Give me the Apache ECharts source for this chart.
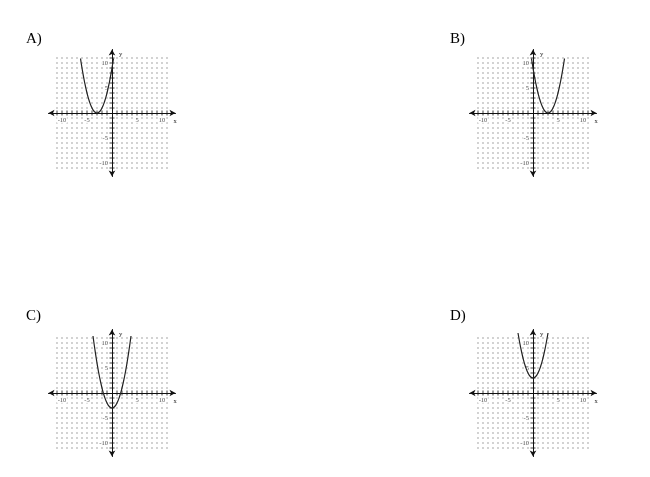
<!DOCTYPE html>
<html>
<head>
<meta charset="utf-8">
<script src="https://cdn.jsdelivr.net/npm/echarts@6/dist/echarts.min.js"></script>
<style>
  html, body { margin: 0; padding: 0; background: #fff; }
  #chart { width: 650px; height: 477px; }
</style>
</head>
<body>
<div id="chart"></div>
<script>
// --- data ---
const panelNames = ["A)", "B)", "C)", "D)"];
const gridTicks = [-11, -10, -9, -8, -7, -6, -5, -4, -3, -2, -1, 1, 2, 3, 4, 5, 6, 7, 8, 9, 10, 11];
const labelTicks = [-10, -5, 5, 10];

// A) vertex at (-3, 0)
const curveA = [[-6.3, 10.9], [-6, 9], [-5.5, 6.25], [-5, 4], [-4.5, 2.25], [-4, 1], [-3.5, 0.25], [-3, 0],
  [-2.5, 0.25], [-2, 1], [-1.5, 2.25], [-1, 4], [-0.5, 6.25], [0, 9], [0.3, 10.9]];
// B) vertex at (3, 0)
const curveB = [[-0.3, 10.9], [0, 9], [0.5, 6.25], [1, 4], [1.5, 2.25], [2, 1], [2.5, 0.25], [3, 0],
  [3.5, 0.25], [4, 1], [4.5, 2.25], [5, 4], [5.5, 6.25], [6, 9], [6.3, 10.9]];
// C) vertex at (0, -3)
const curveC = [[-3.8, 11.4], [-3.5, 9.25], [-3, 6], [-2.5, 3.25], [-2, 1], [-1.5, -0.75], [-1, -2], [-0.5, -2.75], [0, -3],
  [0.5, -2.75], [1, -2], [1.5, -0.75], [2, 1], [2.5, 3.25], [3, 6], [3.5, 9.25], [3.8, 11.4]];
// D) vertex at (0, 3)
const curveD = [[-3, 12], [-2.5, 9.25], [-2, 7], [-1.5, 5.25], [-1, 4], [-0.5, 3.25], [0, 3],
  [0.5, 3.25], [1, 4], [1.5, 5.25], [2, 7], [2.5, 9.25], [3, 12]];

const curves = [curveA, curveB, curveC, curveD];

// panel layout (pixel boxes)
const panelLeft = [48.5, 469.5, 48.5, 469.5];
const panelTop = [49.5, 49.5, 329.5, 329.5];
const letterLeft = [26, 450, 26, 450];
const letterTop = [32, 32, 309, 309];
const SIZE = 127;
const RANGE = 12.7;

const chart = echarts.init(document.getElementById("chart"));

const labelFont = { fontSize: 6.5, color: "#222", fontFamily: "Liberation Serif" };

// dotted lattice of the graph paper
const dots = [];
gridTicks.forEach((x) => gridTicks.forEach((y) => dots.push([x, y])));
const xTickMarks = gridTicks.map((x) => [x, 0]);
const yTickMarks = gridTicks.map((y) => [0, y]);
const xLabelPts = labelTicks.map((x) => [x, 0]);
const yLabelPts = labelTicks.map((y) => [0, y]);

const grids = [], xAxes = [], yAxes = [], series = [], titles = [];

panelNames.forEach((name, i) => {
  grids.push({ left: panelLeft[i], top: panelTop[i], width: SIZE, height: SIZE });

  titles.push({
    text: name,
    left: letterLeft[i],
    top: letterTop[i],
    padding: 0,
    textStyle: { fontFamily: "Liberation Serif", fontSize: 15, fontWeight: "normal", color: "#000" },
  });

  xAxes.push({
    gridIndex: i,
    type: "value",
    min: -RANGE,
    max: RANGE,
    name: "x",
    nameLocation: "end",
    nameGap: -2,
    nameTextStyle: { ...labelFont, verticalAlign: "top", padding: [5, 0, 0, 0] },
    axisLine: {
      onZero: true,
      symbol: ["arrow", "arrow"],
      symbolSize: [5, 6],
      lineStyle: { color: "#111", width: 1 },
    },
    axisTick: { show: false },
    splitLine: { show: false },
    axisLabel: { show: false },
  });

  yAxes.push({
    gridIndex: i,
    type: "value",
    min: -RANGE,
    max: RANGE,
    name: "y",
    nameLocation: "end",
    nameGap: -8,
    nameTextStyle: { ...labelFont, align: "left", padding: [0, 0, 0, 7] },
    axisLine: {
      onZero: true,
      symbol: ["arrow", "arrow"],
      symbolSize: [5, 6],
      lineStyle: { color: "#111", width: 1 },
    },
    axisTick: { show: false },
    splitLine: { show: false },
    axisLabel: { show: false },
  });

  series.push({
    type: "scatter",
    xAxisIndex: i,
    yAxisIndex: i,
    data: dots,
    symbol: "rect",
    symbolSize: 1.2,
    itemStyle: { color: "#4a4a4a" },
    silent: true,
    z: 1,
  });
  series.push({
    type: "scatter",
    xAxisIndex: i,
    yAxisIndex: i,
    data: xTickMarks,
    symbol: "rect",
    symbolSize: [1, 5],
    itemStyle: { color: "#111" },
    silent: true,
    z: 3,
  });
  series.push({
    type: "scatter",
    xAxisIndex: i,
    yAxisIndex: i,
    data: yTickMarks,
    symbol: "rect",
    symbolSize: [5, 1],
    itemStyle: { color: "#111" },
    silent: true,
    z: 3,
  });
  // tick labels sitting on the axes through the origin
  series.push({
    type: "scatter",
    xAxisIndex: i,
    yAxisIndex: i,
    data: xLabelPts,
    symbolSize: 0,
    silent: true,
    label: {
      show: true,
      position: "bottom",
      distance: 3.5,
      formatter: (p) => String(p.value[0]),
      backgroundColor: "#fff",
      padding: [0, 1],
      ...labelFont,
    },
    z: 5,
  });
  series.push({
    type: "scatter",
    xAxisIndex: i,
    yAxisIndex: i,
    data: yLabelPts,
    symbolSize: 0,
    silent: true,
    label: {
      show: true,
      position: "left",
      distance: 3,
      formatter: (p) => String(p.value[1]),
      backgroundColor: "#fff",
      padding: [0, 1],
      ...labelFont,
    },
    z: 5,
  });
  series.push({
    type: "line",
    xAxisIndex: i,
    yAxisIndex: i,
    data: curves[i],
    smooth: true,
    showSymbol: false,
    lineStyle: { color: "#222", width: 1.2 },
    silent: true,
    z: 6,
  });
});

chart.setOption({
  animation: false,
  backgroundColor: "#fff",
  title: titles,
  grid: grids,
  xAxis: xAxes,
  yAxis: yAxes,
  series: series,
});
</script>
</body>
</html>
